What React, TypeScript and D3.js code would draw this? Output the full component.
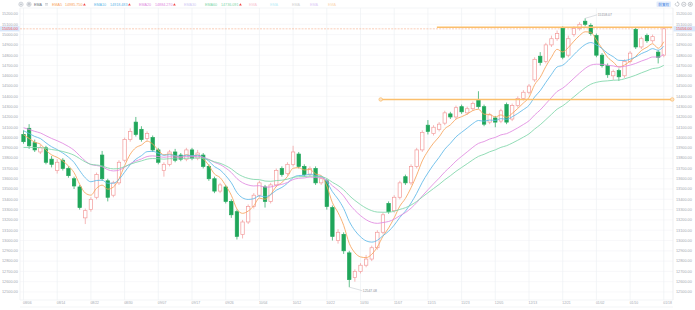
import React from "react";
import * as d3 from "d3";

const W = 695;
const H = 310;

const dateLabels = ["08/06","08/14","08/22","08/30","09/07","09/17","09/26","10/04","10/12","10/22","10/30","11/07","11/15","11/23","12/05","12/13","12/21","01/02","01/10","01/18"];

const opens = [14030,14090,13950,13860,13900,13790,13680,13780,13700,13600,13520,13220,13300,13420,13830,13580,13440,13560,13780,13980,14150,14080,13990,14000,13880,13680,13740,13860,13830,13790,13880,13800,13830,13720,13600,13480,13520,13380,13280,13060,13180,13330,13440,13520,13380,13540,13700,13650,13740,13840,13720,13640,13700,13560,13580,13320,13000,13060,12880,12640,12700,12760,12820,12930,13080,13360,13290,13420,13620,13560,13720,13880,14120,14040,14080,14140,14230,14200,14300,14240,14280,14360,14300,14150,14190,14160,14320,14180,14310,14380,14440,14560,14790,14740,14900,14960,15060,14800,15000,15060,15130,15090,14990,14800,14700,14600,14650,14600,14740,15050,14880,14990,14940,14830,14800];
const highs = [14070,14130,13980,13930,13920,13820,13790,13800,13720,13620,13540,13310,13420,13660,13870,13600,13580,13780,14000,14090,14200,14110,14060,14020,13900,13760,13880,13890,13850,13900,13900,13880,13850,13740,13620,13560,13540,13400,13300,13200,13350,13460,13580,13540,13560,13700,13720,13760,13920,13860,13740,13720,13720,13620,13600,13340,13110,13080,12900,12720,12780,12860,12950,13100,13270,13380,13440,13580,13640,13740,13900,14070,14170,14120,14150,14260,14250,14310,14320,14300,14350,14450,14320,14240,14210,14280,14340,14330,14400,14460,14520,14780,14830,14920,14990,15040,15080,14990,15080,15120,15158.07,15110,15010,14820,14720,14660,14670,14760,14840,15070,14980,15010,15000,14850,15070];
const lows = [13940,13890,13860,13840,13740,13710,13650,13680,13610,13500,13300,13160,13280,13400,13580,13380,13420,13540,13760,13960,14010,13960,13970,13860,13740,13620,13720,13760,13770,13770,13780,13780,13700,13580,13460,13460,13360,13220,13010,13020,13160,13310,13420,13320,13360,13520,13620,13630,13720,13700,13620,13620,13540,13540,13300,13000,12970,12870,12547.08,12600,12680,12740,12800,12910,13060,13260,13270,13400,13540,13540,13700,13860,14030,14020,14060,14120,14180,14180,14230,14220,14260,14280,14110,14130,14100,14140,14130,14160,14290,14360,14420,14540,14700,14720,14880,14940,14760,14780,14980,15040,15080,14990,14780,14680,14580,14560,14550,14580,14720,14860,14860,14920,14920,14720,14780];
const closes = [13960,13920,13880,13900,13760,13740,13760,13700,13630,13530,13320,13290,13400,13640,13600,13420,13560,13760,13980,14060,14030,13980,14040,13880,13760,13740,13860,13780,13790,13880,13800,13850,13720,13600,13480,13540,13380,13250,13040,13180,13330,13440,13560,13380,13540,13680,13640,13740,13860,13720,13640,13700,13560,13600,13330,13040,13080,12900,12620,12700,12760,12820,12930,13080,13250,13280,13420,13560,13560,13720,13880,14050,14060,14100,14130,14240,14200,14290,14250,14280,14330,14300,14130,14220,14150,14260,14150,14310,14380,14440,14500,14760,14730,14900,14960,15010,14780,14960,15060,15100,15100,15010,14800,14700,14610,14640,14590,14740,14820,14880,14960,14940,14980,14780,15056];

const emaNames = ["EMA5", "EMA10", "EMA20", "EMA60"];
const emaSpans = [5, 10, 20, 30];
const emaSeeds = [14060, 14090, 14110, 13900];
const emaValues = ["14985.750", "14918.483", "14884.270", "14736.091"];
const emaColors = ["#f7a35c", "#5fb8e8", "#e08ae0", "#7fd6a9"];
const mutedNames = ["EMA30", "EMA", "EMA", "EMA", "EMA", "EMA"];
const mutedColors = ["#cfcaf3", "#f8c8d4", "#bdeef7", "#d2d2d2", "#dccbf6", "#fbd8b3"];

const lastPrice = 15056;
const peakValue = 15158.07;
const peakIndex = 100;
const lowValue = 12547.08;
const lowIndex = 58;

const levelValues = [15072, 14370];
const levelFrom = [73.6, 63.6];
const levelTo = [115.5, 115.5];
const levelDots = [false, true];

const PLOT = { left: 20, right: 673, top: 8, bottom: 300 };

function ema(span: number, seed: number): number[] {
  const k = 2 / (span + 1);
  let e = seed;
  return closes.map((c) => (e = e + k * (c - e)));
}

export default function App() {
  const x = d3.scaleLinear().domain([0, closes.length - 1]).range([23.5, 663.8]);
  const y = d3.scaleLinear().domain([12500, 15200]).range([292, 14]);
  const yTicks = d3.range(12500, 15201, 100);
  const fmt = d3.format(".2f");
  const tickIdx = dateLabels.map((_, k) => k * 6);
  const line = d3
    .line<number>()
    .x((_, i) => x(i))
    .y((d) => y(d))
    .curve(d3.curveMonotoneX);
  const emaSeries = emaSpans.map((s, j) => ema(s, emaSeeds[j]));
  const bw = 3.4;
  const font = "'Liberation Sans', Arial, sans-serif";
  const up = "#f29a9a";
  const down = "#1fa65a";

  const legendX = [52, 94, 139, 205];
  const valueX = [65, 110, 155, 221];
  const mutedX = [184, 249, 270, 292, 310, 328];

  const yLast = y(lastPrice);

  return (
    <svg
      width={W}
      height={H}
      style={{ position: "absolute", left: 0, top: 0, background: "#fff" }}
      fontFamily={font}
    >
      <defs>
        <clipPath id="plot">
          <rect x={PLOT.left} y={PLOT.top} width={PLOT.right - PLOT.left} height={PLOT.bottom - PLOT.top} />
        </clipPath>
      </defs>
      <rect x={0} y={0} width={W} height={H} fill="#fff" />

      {/* grid */}
      {yTicks.map((v) => (
        <line key={"h" + v} x1={PLOT.left} x2={PLOT.right} y1={y(v)} y2={y(v)} stroke="#f3f4f6" strokeWidth={0.6} />
      ))}
      {tickIdx.map((i) => (
        <line key={"v" + i} x1={x(i)} x2={x(i)} y1={PLOT.top} y2={PLOT.bottom} stroke="#eef0f3" strokeWidth={0.7} />
      ))}
      <line x1={PLOT.left} x2={PLOT.left} y1={PLOT.top} y2={PLOT.bottom} stroke="#eceef1" strokeWidth={0.7} />
      <line x1={PLOT.right} x2={PLOT.right} y1={PLOT.top} y2={PLOT.bottom} stroke="#e6e8eb" strokeWidth={0.7} />
      <line x1={PLOT.left} x2={PLOT.right} y1={PLOT.top} y2={PLOT.top} stroke="#eef0f3" strokeWidth={0.7} />
      <line x1={PLOT.left} x2={PLOT.right} y1={PLOT.bottom} y2={PLOT.bottom} stroke="#eef0f3" strokeWidth={0.7} />
      <line x1={PLOT.left} x2={PLOT.right} y1={307} y2={307} stroke="#eef0f3" strokeWidth={0.7} />

      {/* y labels both sides */}
      {yTicks.map((v) => (
        <g key={"yl" + v} fontSize={3.8} fill="#a3a8b0">
          <text x={2} y={y(v)} dy="0.35em">{fmt(v)}</text>
          <text x={676} y={y(v)} dy="0.35em">{fmt(v)}</text>
        </g>
      ))}

      {/* date labels */}
      {tickIdx.map((i, k) => (
        <text key={"d" + i} x={x(i) + 3.8} y={303.6} fontSize={3.4} fill="#a3a8b0" textAnchor="middle">
          {dateLabels[k]}
        </text>
      ))}

      <g clipPath="url(#plot)">
        {/* last price line */}
        <line x1={PLOT.left} x2={PLOT.right} y1={yLast} y2={yLast} stroke="#f6ad8a" strokeWidth={0.6} strokeDasharray="2,1.2" />

        {/* candles */}
        {closes.map((c, i) => {
          const o = opens[i];
          const isUp = c >= o;
          const col = isUp ? up : down;
          const top = y(Math.max(o, c));
          const bot = y(Math.min(o, c));
          const cx = x(i);
          return (
            <g key={"c" + i}>
              <line x1={cx} x2={cx} y1={y(highs[i])} y2={top} stroke={col} strokeWidth={0.7} />
              <line x1={cx} x2={cx} y1={bot} y2={y(lows[i])} stroke={col} strokeWidth={0.7} />
              <rect
                x={cx - bw / 2}
                y={top}
                width={bw}
                height={Math.max(0.8, bot - top)}
                fill={isUp ? "#fff" : down}
                stroke={col}
                strokeWidth={0.7}
              />
            </g>
          );
        })}

        {/* EMA lines */}
        {emaSeries.map((s, j) => (
          <path key={"e" + j} d={line(s) || ""} fill="none" stroke={emaColors[j]} strokeWidth={0.9} opacity={0.95} />
        ))}
      </g>

      {/* drawn level lines */}
      {levelValues.map((v, j) => (
        <g key={"lv" + j}>
          <line
            x1={x(levelFrom[j])}
            x2={Math.min(PLOT.right - 0.5, x(levelTo[j]))}
            y1={y(v)}
            y2={y(v)}
            stroke="#fbbf6c"
            strokeWidth={1.5}
          />
          {levelDots[j] && (
            <>
              <circle cx={x(levelFrom[j])} cy={y(v)} r={1.8} fill="#fde3c2" stroke="#f8b560" strokeWidth={0.6} />
              <circle cx={Math.min(PLOT.right - 0.5, x(levelTo[j]))} cy={y(v)} r={1.8} fill="#fde3c2" stroke="#f8b560" strokeWidth={0.6} />
            </>
          )}
        </g>
      ))}

      {/* annotations */}
      <line x1={x(peakIndex)} y1={y(peakValue)} x2={x(peakIndex) + 12} y2={y(peakValue) - 3.5} stroke="#b9bec6" strokeWidth={0.5} />
      <text x={x(peakIndex) + 12.5} y={y(peakValue) - 3.5} dy="0.35em" fontSize={3.4} fill="#8a9099">{fmt(peakValue)}</text>
      <line x1={x(lowIndex)} y1={y(lowValue)} x2={x(lowIndex) + 13} y2={y(lowValue) + 3.5} stroke="#b9bec6" strokeWidth={0.5} />
      <text x={x(lowIndex) + 13.5} y={y(lowValue) + 3.5} dy="0.35em" fontSize={3.4} fill="#8a9099">{fmt(lowValue)}</text>

      {/* last price tags */}
      <rect x={0} y={yLast - 2.6} width={19.5} height={5.2} fill="#d9e7fb" />
      <text x={2} y={yLast} dy="0.35em" fontSize={3.8} fill="#ef5350">{fmt(lastPrice)}</text>
      <rect x={673.5} y={yLast - 2.6} width={21.5} height={5.2} fill="#d9e7fb" />
      <text x={676} y={yLast} dy="0.35em" fontSize={3.8} fill="#ef5350">{fmt(lastPrice)}</text>

      {/* legend */}
      <g fontSize={3.7}>
        <circle cx={21} cy={4.3} r={2.2} fill="#eceef1" stroke="#b5bac2" strokeWidth={0.5} />
        <line x1={19.9} x2={22.1} y1={4.3} y2={4.3} stroke="#8f959e" strokeWidth={0.5} />
        <circle cx={29} cy={4.3} r={2.2} fill="#eceef1" stroke="#b5bac2" strokeWidth={0.5} />
        <circle cx={29} cy={4.3} r={0.9} fill="none" stroke="#8f959e" strokeWidth={0.5} />
        <text x={34} y={4.3} dy="0.35em" fill="#6b7078">EMA</text>
        <line x1={45} x2={48} y1={3.6} y2={3.6} stroke="#9aa0a8" strokeWidth={0.5} />
        <line x1={45} x2={48} y1={5} y2={5} stroke="#9aa0a8" strokeWidth={0.5} />
        {emaNames.map((n, j) => (
          <g key={"lg" + j}>
            <text x={legendX[j]} y={4.3} dy="0.35em" fill={emaColors[j]}>{n}</text>
            <text x={valueX[j]} y={4.3} dy="0.35em" fill={emaColors[j]}>{emaValues[j]}</text>
            <path
              d={`M${valueX[j] + 18},5.6 L${valueX[j] + 19.4},3.2 L${valueX[j] + 20.8},5.6 Z`}
              fill="#f04a4a"
            />
          </g>
        ))}
        {mutedNames.map((n, j) => (
          <text key={"m" + j} x={mutedX[j]} y={4.3} dy="0.35em" fill={mutedColors[j]}>{n}</text>
        ))}
      </g>

      {/* top right controls */}
      <rect x={656.5} y={1.6} width={14.5} height={5.4} rx={0.8} fill="#e3edfc" />
      <text x={663.7} y={4.3} dy="0.35em" fontSize={3.6} fill="#3b7ddd" textAnchor="middle" fontFamily="'Noto Sans CJK SC', sans-serif">前复权</text>
      <path d="M675.6,3.2 A1.9,1.9 0 1 0 677.6,2.4" fill="none" stroke="#9aa0a8" strokeWidth={0.55} />
      <path d="M677.6,1.4 L677.8,2.5 L676.7,2.7" fill="none" stroke="#9aa0a8" strokeWidth={0.5} />
      <circle cx={683.8} cy={4.3} r={2.1} fill="none" stroke="#9aa0a8" strokeWidth={0.55} />
      <line x1={682.7} x2={684.9} y1={4.3} y2={4.3} stroke="#9aa0a8" strokeWidth={0.55} />
      <circle cx={690.3} cy={4.3} r={2.1} fill="none" stroke="#9aa0a8" strokeWidth={0.55} />
      <line x1={689.2} x2={691.4} y1={4.3} y2={4.3} stroke="#9aa0a8" strokeWidth={0.55} />
      <line x1={690.3} x2={690.3} y1={3.2} y2={5.4} stroke="#9aa0a8" strokeWidth={0.55} />
    </svg>
  );
}
